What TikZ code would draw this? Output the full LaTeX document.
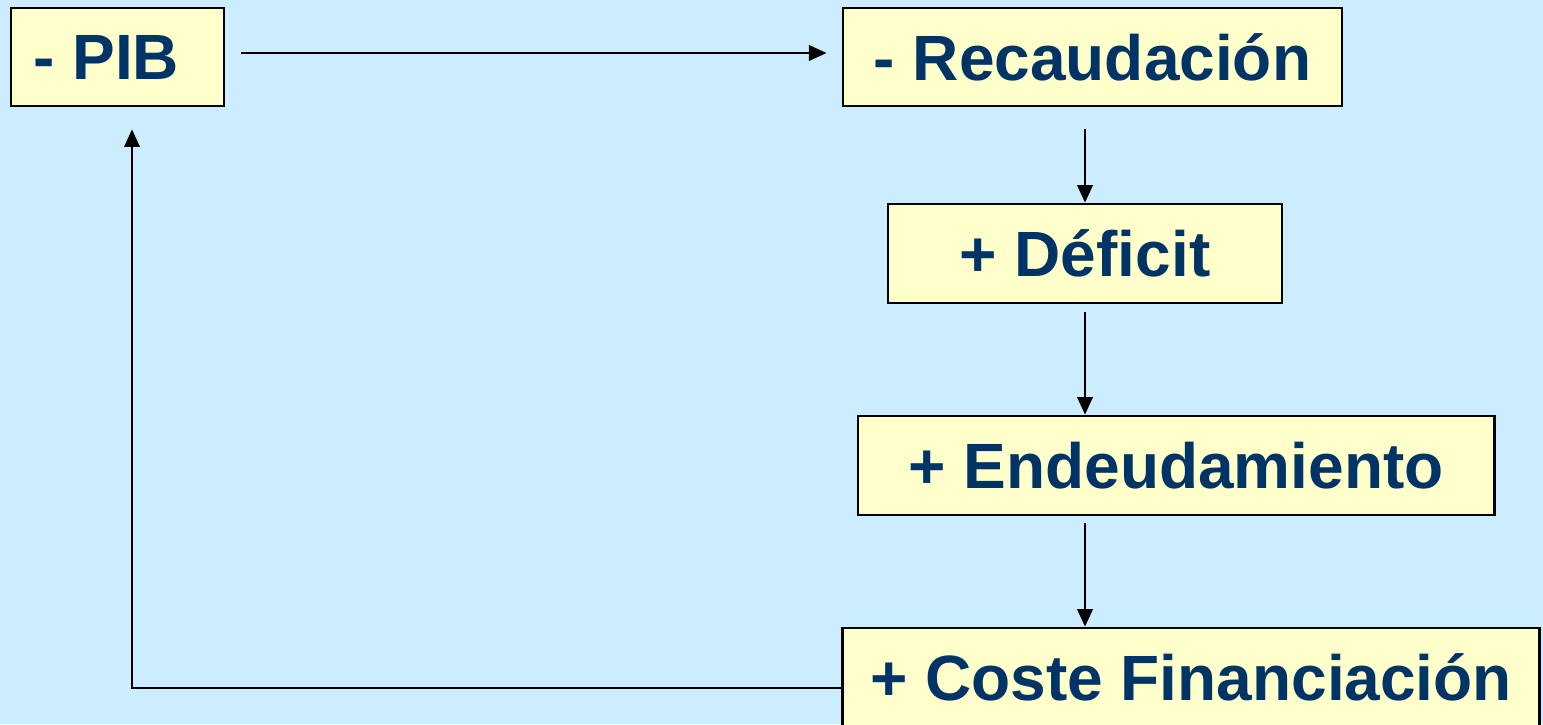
\documentclass[tikz,border=0pt]{standalone}
\usepackage{fontspec}
\setmainfont{Liberation Sans}
\usetikzlibrary{arrows.meta}
\definecolor{bgblue}{HTML}{CCECFF}
\definecolor{boxfill}{HTML}{FFFFCC}
\definecolor{navy}{HTML}{003366}
\tikzset{
  stagebox/.style={draw=black, fill=boxfill, line width=0.75pt, inner sep=0pt,
    font=\fontsize{18.2pt}{22pt}\selectfont\bfseries, text=navy},
  flow/.style={line width=0.65pt, -{Triangle[length=5pt,width=4.4pt]}},
}
\begin{document}
\begin{tikzpicture}[x=0.01cm, y=-0.01cm]
  \fill[bgblue] (0,0) rectangle (1543,724);
  \useasboundingbox (0,0) rectangle (1543,724);

  \node[stagebox, minimum width=2.13cm, minimum height=0.98cm] (pib) at (117.5,57) {- PIB\hspace*{0.35em}};
  \node[stagebox, minimum width=4.99cm, minimum height=0.98cm] (rec) at (1092.5,57) {- Recaudación};
  \node[stagebox, minimum width=3.94cm, minimum height=0.99cm] (def) at (1085,253.5) {+ Déficit};
  \node[stagebox, minimum width=6.36cm, minimum height=0.99cm] (end) at (1176,465.5) {+ Endeudamiento};
  \node[stagebox, minimum width=6.96cm, minimum height=0.98cm] (cost) at (1191,677) {+ Coste Financiación};

  \coordinate (turn) at (132,688);

  \draw[flow, shorten <=0.16cm, shorten >=0.15cm] ([yshift=0.04cm]pib.east) -- ([yshift=0.04cm]rec.west);
  \draw[flow, shorten <=0.22cm] (rec.south -| def.north) -- (def.north);
  \draw[flow, shorten <=0.08cm] (def.south) -- (def.south |- end.north);
  \draw[flow, shorten <=0.07cm] (end.south -| def.south) -- (def.south |- cost.north);
  \draw[flow, shorten >=0.22cm] (cost.west |- turn) -- (turn) -- (turn |- pib.south);
\end{tikzpicture}
\end{document}
